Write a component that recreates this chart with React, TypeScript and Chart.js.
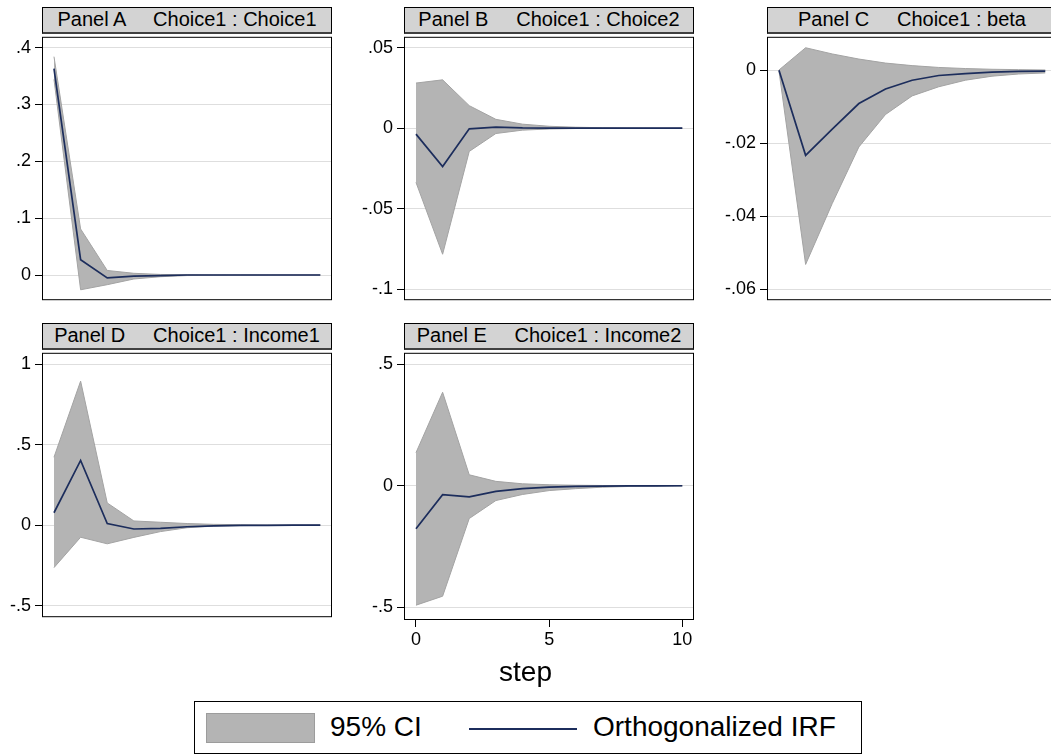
import React, { useEffect, useRef } from "react";
import { Chart, registerables } from "chart.js";

Chart.register(...registerables);

// ---------- data ----------
const STEPS = [0, 1, 2, 3, 4, 5, 6, 7, 8, 9, 10];
const X_TICKS = [0, 5, 10];
const X_TICK_LABELS = ["0", "5", "10"];
const X_TITLE = "step";

const LEGEND_CI = "95% CI";
const LEGEND_IRF = "Orthogonalized IRF";

// Panel A: Choice1 : Choice1
const irfA = [0.363, 0.027, -0.005, -0.002, -0.001, 0, 0, 0, 0, 0, 0];
const upA = [0.384, 0.081, 0.008, 0.003, 0.001, 0.0005, 0.0002, 0.0001, 0, 0, 0];
const loA = [0.344, -0.026, -0.017, -0.007, -0.003, -0.001, -0.0005, -0.0002, -0.0001, 0, 0];
const ticksA = [0, 0.1, 0.2, 0.3, 0.4];
const labelsA = ["0", ".1", ".2", ".3", ".4"];

// Panel B: Choice1 : Choice2
const irfB = [-0.0037, -0.0238, -0.0004, 0.0007, 0.0002, 0.0001, 0, 0, 0, 0, 0];
const upB = [0.028, 0.030, 0.014, 0.0055, 0.0025, 0.0012, 0.0006, 0.0003, 0.0001, 0, 0];
const loB = [-0.0336, -0.0782, -0.0144, -0.0033, -0.0012, -0.0005, -0.0002, -0.0001, 0, 0, 0];
const ticksB = [-0.1, -0.05, 0, 0.05];
const labelsB = ["-.1", "-.05", "0", ".05"];

// Panel C: Choice1 : beta
const irfC = [0, -0.0233, -0.0161, -0.0091, -0.0051, -0.0027, -0.0014, -0.0009, -0.0005, -0.0003, -0.0002];
const upC = [0.0001, 0.0062, 0.0045, 0.0031, 0.002, 0.0013, 0.0008, 0.0005, 0.0003, 0.0002, 0.0001];
const loC = [-0.0002, -0.0532, -0.0365, -0.021, -0.0121, -0.007, -0.0045, -0.0027, -0.0016, -0.001, -0.0007];
const ticksC = [-0.06, -0.04, -0.02, 0];
const labelsC = ["-.06", "-.04", "-.02", "0"];

// Panel D: Choice1 : Income1
const irfD = [0.077, 0.402, 0.01, -0.024, -0.02, -0.01, -0.005, -0.002, -0.001, 0, 0];
const upD = [0.422, 0.895, 0.138, 0.026, 0.018, 0.01, 0.005, 0.003, 0.001, 0.0005, 0.0002];
const loD = [-0.264, -0.075, -0.116, -0.076, -0.04, -0.016, -0.006, -0.003, -0.001, -0.0005, -0.0002];
const ticksD = [-0.5, 0, 0.5, 1];
const labelsD = ["-.5", "0", ".5", "1"];

// Panel E: Choice1 : Income2
const irfE = [-0.177, -0.037, -0.046, -0.023, -0.012, -0.006, -0.003, -0.0015, -0.0007, -0.0003, -0.0001];
const upE = [0.136, 0.385, 0.045, 0.018, 0.008, 0.004, 0.002, 0.001, 0.0005, 0.0002, 0.0001];
const loE = [-0.492, -0.455, -0.135, -0.061, -0.036, -0.02, -0.012, -0.006, -0.003, -0.0015, -0.0007];
const ticksE = [-0.5, 0, 0.5];
const labelsE = ["-.5", "0", ".5"];

// ---------- style / layout ----------
const FONT = "'Liberation Sans', Arial, Helvetica, sans-serif";
const NAVY = "#1c2d5c";
const BAND = "#b4b4b4";
const BAND_EDGE = "#a3a3a3";
const GRID = "#dedede";
const BOX_W = 290;
const AXIS_W = 42;
const PAD_R = 14;
const PAD_V = 12;
const X_AXIS_H = 40;

type Panel = {
  name: string;
  pair: string;
  irf: number[];
  up: number[];
  lo: number[];
  ticks: number[];
  labels: string[];
  yMin: number;
  yMax: number;
  boxLeft: number;
  headerTop: number;
  plotTop: number;
  plotBottom: number;
  showX: boolean;
};

const PANELS: Panel[] = [
  { name: "Panel A", pair: "Choice1 : Choice1", irf: irfA, up: upA, lo: loA, ticks: ticksA, labels: labelsA,
    yMin: -0.0443, yMax: 0.4189, boxLeft: 42, headerTop: 7, plotTop: 34, plotBottom: 303, showX: false },
  { name: "Panel B", pair: "Choice1 : Choice2", irf: irfB, up: upB, lo: loB, ticks: ticksB, labels: labelsB,
    yMin: -0.1067, yMax: 0.0567, boxLeft: 404, headerTop: 7, plotTop: 34, plotBottom: 303, showX: false },
  { name: "Panel C", pair: "Choice1 : beta", irf: irfC, up: upC, lo: loC, ticks: ticksC, labels: labelsC,
    yMin: -0.063, yMax: 0.0092, boxLeft: 767, headerTop: 7, plotTop: 34, plotBottom: 303, showX: false },
  { name: "Panel D", pair: "Choice1 : Income1", irf: irfD, up: upD, lo: loD, ticks: ticksD, labels: labelsD,
    yMin: -0.572, yMax: 1.071, boxLeft: 42, headerTop: 323, plotTop: 350, plotBottom: 620, showX: false },
  { name: "Panel E", pair: "Choice1 : Income2", irf: irfE, up: upE, lo: loE, ticks: ticksE, labels: labelsE,
    yMin: -0.553, yMax: 0.5475, boxLeft: 404, headerTop: 323, plotTop: 350, plotBottom: 620, showX: true },
];

const boxPlugin = {
  id: "panelBox",
  afterDraw(chart: any) {
    const { ctx, chartArea } = chart;
    const { left, top, right, bottom } = chartArea;
    ctx.save();
    ctx.strokeStyle = "#000";
    ctx.lineWidth = 1;
    ctx.strokeRect(left + 0.5, top + 0.5, right - left - 1, bottom - top - 1);
    ctx.restore();
  },
};

function PanelChart({ p }: { p: Panel }) {
  const ref = useRef<HTMLCanvasElement | null>(null);
  const width = AXIS_W + BOX_W + PAD_R;
  const height = PAD_V + (p.plotBottom - p.plotTop) + (p.showX ? X_AXIS_H : PAD_V);

  useEffect(() => {
    if (!ref.current) return;
    const pts = (arr: number[]) => STEPS.map((s, i) => ({ x: s, y: arr[i] }));
    const chart = new Chart(ref.current, {
      type: "line",
      data: {
        datasets: [
          { label: LEGEND_IRF, data: pts(p.irf), borderColor: NAVY, borderWidth: 1.7, pointRadius: 0, tension: 0, fill: false },
          { label: LEGEND_CI + " upper", data: pts(p.up), borderColor: BAND_EDGE, borderWidth: 1, backgroundColor: BAND, pointRadius: 0, tension: 0, fill: "+1" },
          { label: LEGEND_CI + " lower", data: pts(p.lo), borderColor: BAND_EDGE, borderWidth: 1, pointRadius: 0, tension: 0, fill: false },
        ],
      },
      options: {
        animation: false,
        responsive: false,
        events: [],
        layout: { padding: { left: 0, right: PAD_R, top: PAD_V, bottom: p.showX ? 0 : PAD_V } },
        plugins: {
          legend: { display: false },
          tooltip: { enabled: false },
          title: { display: false },
          filler: { drawTime: "beforeDatasetsDraw" },
        },
        scales: {
          x: {
            type: "linear",
            min: -0.45,
            max: 10.44,
            display: p.showX,
            afterBuildTicks: (s: any) => { s.ticks = X_TICKS.map((v) => ({ value: v })); },
            afterFit: (s: any) => { if (p.showX) s.height = X_AXIS_H; },
            grid: { drawOnChartArea: false, drawTicks: true, tickLength: 7, tickColor: "#000", tickWidth: 1 },
            border: { display: false },
            ticks: {
              color: "#000",
              font: { family: FONT, size: 18 },
              padding: 2,
              maxRotation: 0,
              autoSkip: false,
              callback: (v: any) => X_TICK_LABELS[X_TICKS.indexOf(Number(v))] ?? "",
            },
          },
          y: {
            type: "linear",
            min: p.yMin,
            max: p.yMax,
            afterBuildTicks: (s: any) => { s.ticks = p.ticks.map((v) => ({ value: v })); },
            afterFit: (s: any) => { s.width = AXIS_W; },
            grid: { color: GRID, lineWidth: 1, drawTicks: true, tickLength: 7, tickColor: "#000", tickWidth: 1 },
            border: { display: false },
            ticks: {
              color: "#000",
              font: { family: FONT, size: 18 },
              padding: 4,
              autoSkip: false,
              callback: (v: any) => p.labels[p.ticks.indexOf(Number(v))] ?? "",
            },
          },
        },
      },
      plugins: [boxPlugin],
    } as any);
    return () => chart.destroy();
  }, [p]);

  return (
    <>
      <div
        style={{
          position: "absolute",
          left: p.boxLeft,
          top: p.headerTop,
          width: BOX_W,
          height: p.plotTop - p.headerTop,
          boxSizing: "border-box",
          background: "#d3d3d3",
          borderTop: "1px solid #000",
          borderLeft: "1px solid #000",
          borderRight: "1px solid #000",
          borderBottom: "2px solid #404040",
          fontFamily: FONT,
          fontSize: 20,
          lineHeight: "22px",
          textAlign: "center",
          whiteSpace: "pre",
          color: "#000",
        }}
      >
        {p.name + "     " + p.pair}
      </div>
      <canvas
        ref={ref}
        width={width}
        height={height}
        style={{
          position: "absolute",
          left: p.boxLeft - AXIS_W,
          top: p.plotTop - PAD_V,
          width,
          height,
        }}
      />
    </>
  );
}

export default function App() {
  return (
    <div
      style={{
        position: "absolute",
        left: 0,
        top: 0,
        width: 1051,
        height: 755,
        overflow: "hidden",
        background: "#fff",
        fontFamily: FONT,
        color: "#000",
      }}
    >
      {PANELS.map((p) => (
        <PanelChart key={p.name} p={p} />
      ))}
      <div
        style={{
          position: "absolute",
          left: 0,
          top: 657,
          width: 1051,
          textAlign: "center",
          fontSize: 28,
          lineHeight: "30px",
        }}
      >
        {X_TITLE}
      </div>
      <div
        style={{
          position: "absolute",
          left: 194,
          top: 701,
          width: 668,
          height: 53,
          boxSizing: "border-box",
          border: "1px solid #000",
          background: "#fff",
        }}
      >
        <div
          style={{
            position: "absolute",
            left: 11,
            top: 11,
            width: 109,
            height: 30,
            boxSizing: "border-box",
            background: BAND,
            border: "1px solid #9c9c9c",
          }}
        />
        <div style={{ position: "absolute", left: 135, top: 10, fontSize: 28, lineHeight: "30px", whiteSpace: "pre" }}>
          {LEGEND_CI}
        </div>
        <div style={{ position: "absolute", left: 274, top: 26, width: 108, height: 2, background: NAVY }} />
        <div style={{ position: "absolute", left: 398, top: 10, fontSize: 28, lineHeight: "30px", whiteSpace: "pre" }}>
          {LEGEND_IRF}
        </div>
      </div>
    </div>
  );
}
